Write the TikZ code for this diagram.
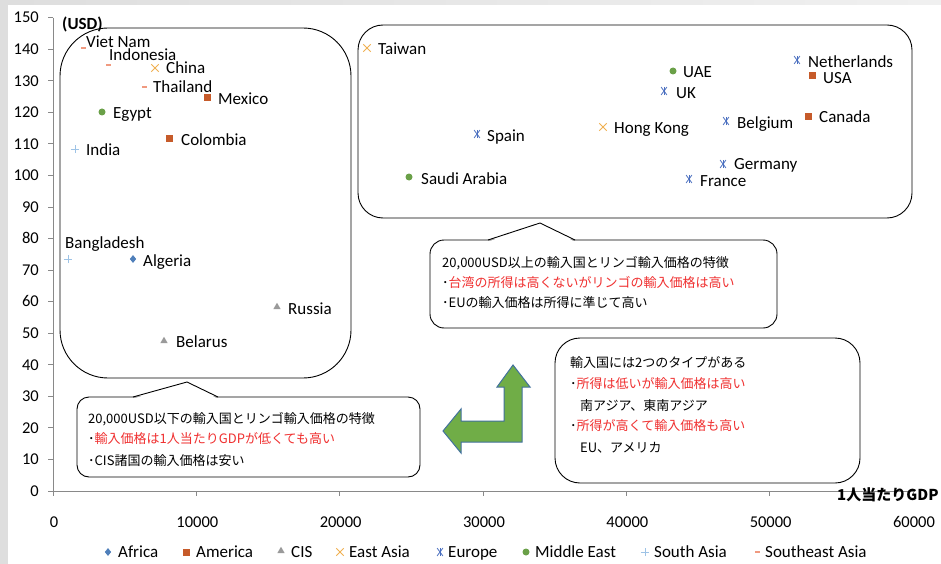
\documentclass[tikz,border=0pt]{standalone}
\usepackage{fontspec}
\setmainfont{Carlito}
\newfontfamily\jp{Noto Sans CJK JP}
\usetikzlibrary{shapes.geometric,shapes.misc}
\definecolor{axisgray}{HTML}{898989}
\definecolor{cAfrica}{HTML}{4F7FBA}
\definecolor{cAmerica}{HTML}{C65B2A}
\definecolor{cCIS}{HTML}{9A9A9A}
\definecolor{cEast}{HTML}{F0B050}
\definecolor{cEurope}{HTML}{4A6FC0}
\definecolor{cMid}{HTML}{6AA048}
\definecolor{cSouth}{HTML}{9EC3E6}
\definecolor{cSE}{HTML}{F09A80}
\definecolor{arrowfill}{HTML}{70AD47}
\definecolor{arrowline}{HTML}{41719C}
\definecolor{txtred}{HTML}{F03030}
\definecolor{bandgray}{HTML}{DEDEDE}
\tikzset{
  axisline/.style={draw=axisgray, line width=0.9pt},
  boxline/.style={draw=black, line width=0.9pt},
  mAfrica/.style={diamond, fill=cAfrica, inner sep=0pt, minimum width=6.5pt, minimum height=8pt},
  mAmerica/.style={rectangle, fill=cAmerica, inner sep=0pt, minimum size=7pt},
  mCIS/.style={regular polygon, regular polygon sides=3, fill=cCIS, inner sep=0pt, minimum size=8.5pt},
  mEast/.style={cross out, draw=cEast, line width=0.9pt, inner sep=0pt, minimum size=6.5pt},
  mEurope/.style={cross out, draw=cEurope, line width=0.8pt, inner sep=0pt, minimum width=5pt, minimum height=7pt,
    append after command={(\tikzlastnode.north) edge[draw=cEurope, line width=0.8pt] (\tikzlastnode.south)}},
  mMid/.style={circle, fill=cMid, inner sep=0pt, minimum size=7pt},
  mSouth/.style={cross out, draw=cSouth, line width=0.8pt, inner sep=0pt, minimum size=5pt, rotate=45},
  mSE/.style={rectangle, fill=cSE, inner sep=0pt, minimum width=5pt, minimum height=1.6pt},
  lbl/.style={anchor=west, inner sep=0pt, font=\fontsize{17}{20}\selectfont, text height=11pt, text depth=0pt},
  ticklbl/.style={inner sep=0pt, font=\fontsize{16.5}{18}\selectfont, text height=10.5pt, text depth=0pt},
  jpline/.style={anchor=base west, inner sep=0pt, font=\jp\fontsize{13}{16}\selectfont},
}
\newcommand\datapoint[5]{\node[#1] (m#2) at (#3) {}; \node[lbl] (l#2) at (#4) {#5};}
\begin{document}
\begin{tikzpicture}[x=1pt,y=-1pt]
\useasboundingbox (0,0) rectangle (941,564);
\fill[white] (0,0) rectangle (941,564);
\fill[bandgray] (0,0) rectangle (8,564);
\shade[left color=bandgray, right color=bandgray!45] (8,0) rectangle (941,5);

% axes
\draw[axisline] (53,17.75) -- (53,491) -- (913,491);
\foreach \v in {0,10,...,150} {
  \draw[axisline] (48,{491-3.155*\v}) -- (53,{491-3.155*\v});
  \node[ticklbl, anchor=east] (yl\v) at (39,{491-3.155*\v}) {\v};
}
\foreach \k/\lab in {0/0,1/10000,2/20000,3/30000,4/40000,5/50000,6/60000} {
  \draw[axisline] ({53+143.33*\k},491) -- ({53+143.33*\k},496);
  \node[ticklbl] (xl\k) at ({54+143.33*\k},522) {\lab};
}

% grouping boxes
\draw[boxline, fill=white, rounded corners=48pt] (60,28) rectangle (351,378);
\draw[boxline, fill=white, rounded corners=25pt] (358,25) rectangle (912,218);

% data points
\datapoint{mSE}{viet}{83,48}{86,42}{Viet Nam}
\datapoint{mSE}{indo}{108,65}{109,55}{Indonesia}
\datapoint{mEast}{china}{155,68}{166,68}{China}
\datapoint{mSE}{thai}{144,87}{153,87}{Thailand}
\datapoint{mAmerica}{mexico}{207,98}{218,99}{Mexico}
\datapoint{mMid}{egypt}{102,112}{113,113}{Egypt}
\datapoint{mAmerica}{colombia}{169,139}{181,140}{Colombia}
\datapoint{mSouth}{india}{75,149}{86,150}{India}
\datapoint{mSouth}{bangla}{68,259}{65,243}{Bangladesh}
\datapoint{mAfrica}{algeria}{133,259}{143,261}{Algeria}
\datapoint{mCIS}{russia}{277,307}{288,309}{Russia}
\datapoint{mCIS}{belarus}{164,341}{176,342}{Belarus}
\datapoint{mEast}{taiwan}{367,48}{378,49}{Taiwan}
\datapoint{mEurope}{nether}{797,60}{808,62}{Netherlands}
\datapoint{mMid}{uae}{673,71}{683,72}{UAE}
\datapoint{mAmerica}{usa}{812,76}{823,78}{USA}
\datapoint{mEurope}{uk}{664,91}{676,93}{UK}
\datapoint{mAmerica}{canada}{808,117}{819,117}{Canada}
\datapoint{mEurope}{belgium}{726,121}{737,123}{Belgium}
\datapoint{mEast}{hk}{603,127}{614,128}{Hong Kong}
\datapoint{mEurope}{spain}{477,134}{487,136}{Spain}
\datapoint{mEurope}{germany}{723,164}{734,164}{Germany}
\datapoint{mMid}{saudi}{409,177}{421,179}{Saudi Arabia}
\datapoint{mEurope}{france}{689,179}{700,181}{France}

% callout: above 20000
\draw[boxline, fill=white, rounded corners=14pt] (430,240) rectangle (777,328);
\fill[white] (489,241.3) -- (540,223.8) -- (574,241.3) -- cycle;
\draw[boxline, line join=round] (488,240) -- (540,223) -- (575,240);
\node[jpline] (ua1) at (442,267) {20,000USD以上の輸入国とリンゴ輸入価格の特徴};
\node[jpline] (ua2) at (442,287) {･\textcolor{txtred}{台湾の所得は高くないがリンゴの輸入価格は高い}};
\node[jpline] (ua3) at (442,307) {･EUの輸入価格は所得に準じて高い};

% callout: below 20000
\draw[boxline, fill=white, rounded corners=12pt] (77,397) rectangle (420,477);
\fill[white] (134,398.3) -- (187,382.8) -- (217,398.3) -- cycle;
\draw[boxline, line join=round] (133,397) -- (187,382) -- (218,397);
\node[jpline] (lb1) at (88,423) {20,000USD以下の輸入国とリンゴ輸入価格の特徴};
\node[jpline] (lb2) at (88,443) {･\textcolor{txtred}{輸入価格は1人当たりGDPが低くても高い}};
\node[jpline] (lb3) at (88,465) {･CIS諸国の輸入価格は安い};

% summary box
\draw[boxline, fill=white, rounded corners=25pt] (555,338) rectangle (860,483);
\node[jpline] (sm1) at (570,367) {輸入国には2つのタイプがある};
\node[jpline] (sm2) at (570,388) {･\textcolor{txtred}{所得は低いが輸入価格は高い}};
\node[jpline] (sm3) at (580,410) {南アジア、東南アジア};
\node[jpline] (sm4) at (570,430) {･\textcolor{txtred}{所得が高くて輸入価格も高い}};
\node[jpline] (sm5) at (580,452) {EU、アメリカ};

% bent arrow
\draw[draw=arrowline, fill=arrowfill, line width=1pt, line join=miter]
  (513,365) -- (530,387) -- (522,387) -- (522,442) -- (461,442) -- (461,453)
  -- (443,431) -- (461,409) -- (461,421) -- (504,421) -- (504,387) -- (497,387) -- cycle;

% axis titles
\node[anchor=west, inner sep=0pt, font=\bfseries\fontsize{17}{20}\selectfont, text height=11pt, text depth=0pt] (ytitle) at (62,24) {(USD)};
\node[anchor=west, inner sep=0pt, font=\jp\bfseries\fontsize{15}{18}\selectfont] (xtitle) at (837,495) {1人当たりGDP};

% legend
\node[mAfrica] (lgmA) at (108,552) {}; \node[lbl] (lgA) at (118,552) {Africa};
\node[mAmerica] (lgmB) at (186,552) {}; \node[lbl] (lgB) at (196,552) {America};
\node[mCIS] (lgmC) at (281,551) {}; \node[lbl] (lgC) at (291,552) {CIS};
\node[mEast] (lgmD) at (340,552) {}; \node[lbl] (lgD) at (349,552) {East Asia};
\node[mEurope] (lgmE) at (440,552) {}; \node[lbl] (lgE) at (448,552) {Europe};
\node[mMid] (lgmF) at (526,552) {}; \node[lbl] (lgF) at (535,552) {Middle East};
\node[mSouth] (lgmG) at (645,552) {}; \node[lbl] (lgG) at (654,552) {South Asia};
\node[mSE] (lgmH) at (757,552) {}; \node[lbl] (lgH) at (765,552) {Southeast Asia};
\end{tikzpicture}
\end{document}
